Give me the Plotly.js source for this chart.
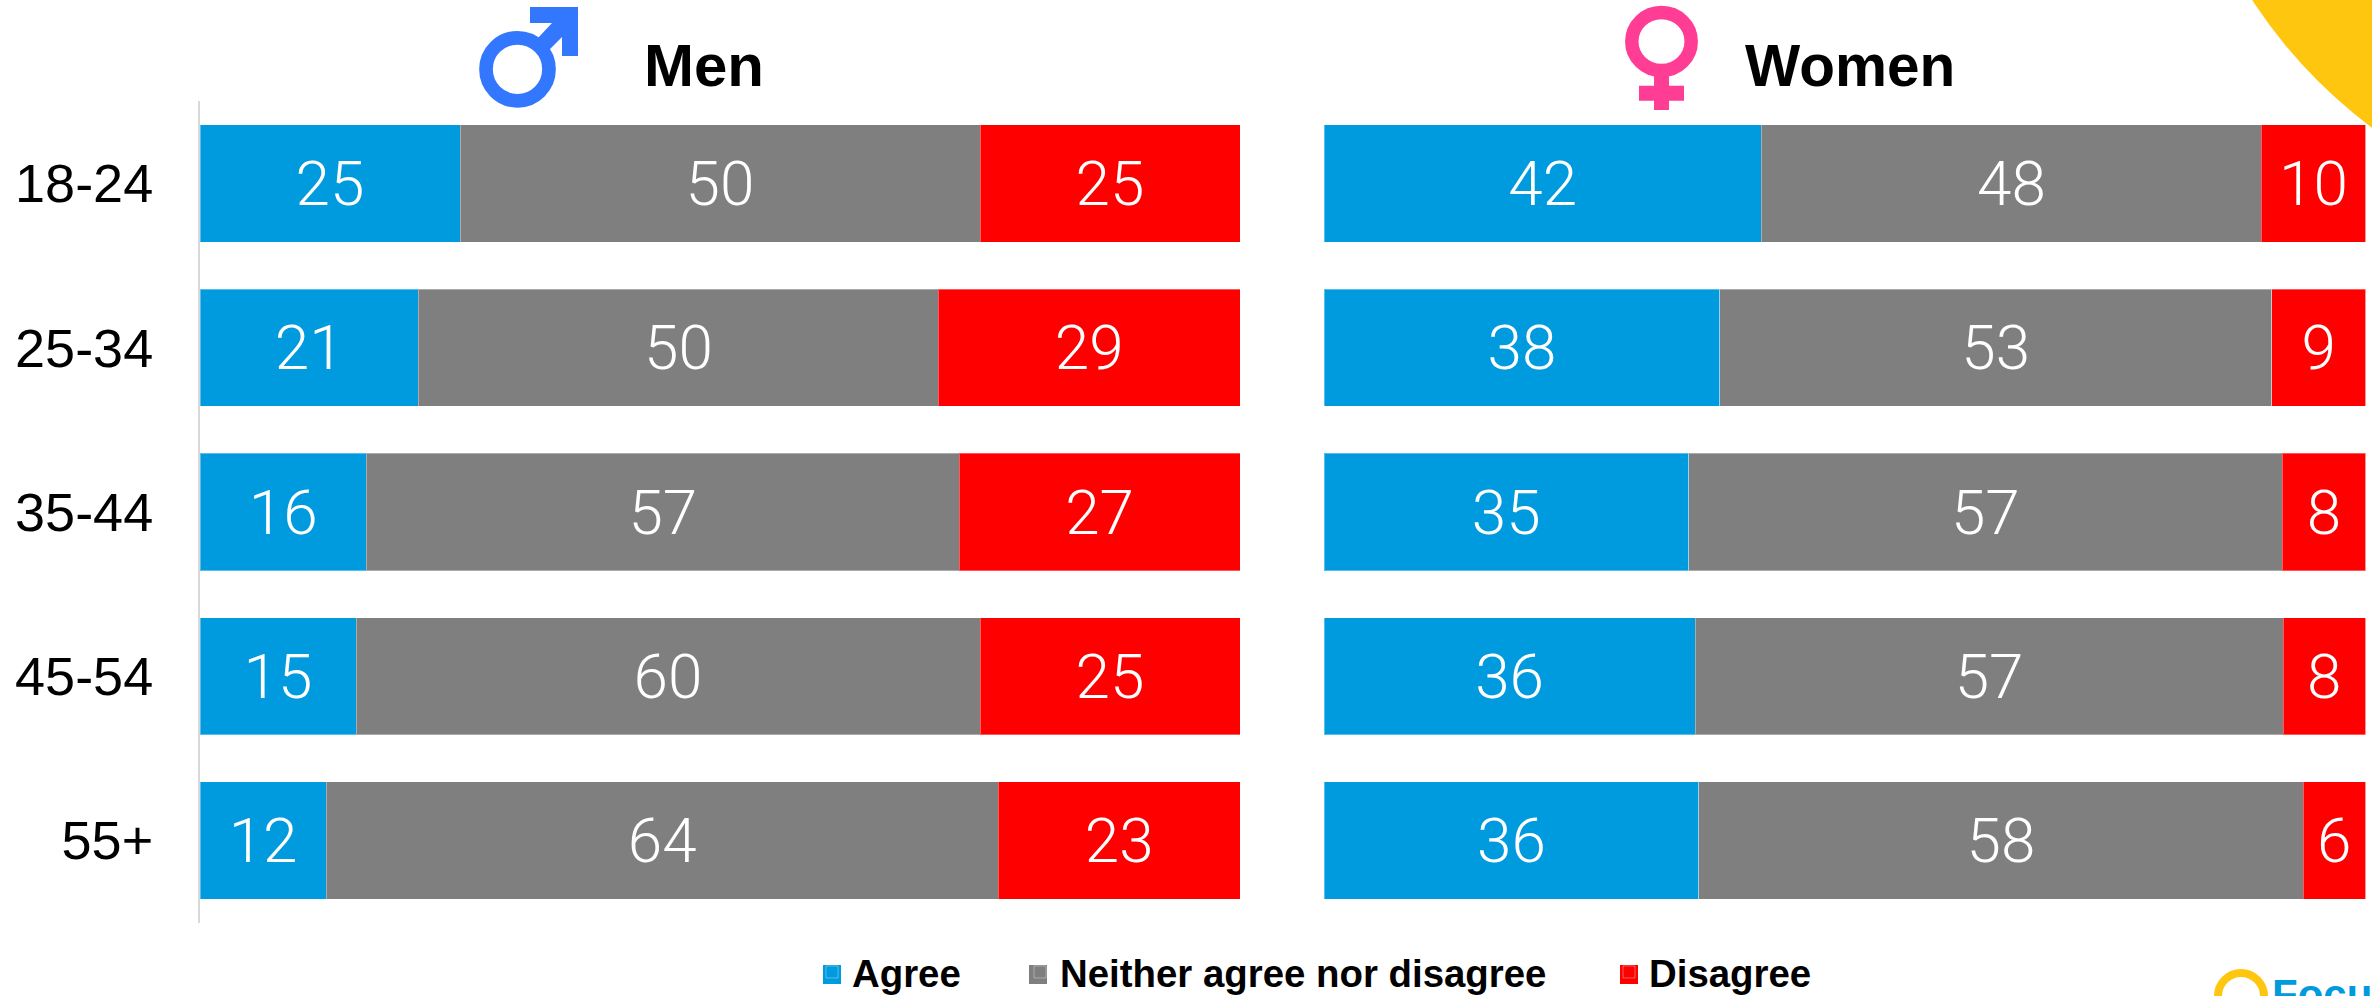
<!DOCTYPE html>
<html>
<head>
<meta charset="utf-8">
<script src="https://cdn.plot.ly/plotly-3.0.1.min.js"></script>
<style>html,body{margin:0;padding:0;background:#fff;overflow:hidden;height:996px}#chart{width:2372px;height:1012px}</style>
</head>
<body>
<div id="chart"></div>
<script>
var ageGroups = ['18-24', '25-34', '35-44', '45-54', '55+'];
var menAgree = [25, 21, 16, 15, 12];
var menNeither = [50, 50, 57, 60, 64];
var menDisagree = [25, 29, 27, 25, 23];
var womenAgree = [42, 38, 35, 36, 36];
var womenNeither = [48, 53, 57, 57, 58];
var womenDisagree = [10, 9, 8, 8, 6];
var seriesNames = ['Agree', 'Neither agree nor disagree', 'Disagree'];
var seriesColors = ['#009ADE', '#7F7F7F', '#FF0000'];

var W = 2372, H = 1012;
function px(x) { return x / W; }
function py(y) { return 1 - y / H; }

function barTrace(values, i, xa, ya, first) {
  return {
    type: 'bar', orientation: 'h', name: seriesNames[i],
    y: ageGroups, x: values, xaxis: xa, yaxis: ya,
    text: values.map(String), textposition: 'inside', insidetextanchor: 'middle',
    textangle: 0, constraintext: 'none',
    textfont: {family: 'Roboto', size: 62, color: '#fff', weight: 300},
    marker: {color: seriesColors[i], line: {width: 1, color: 'rgba(255,255,255,0.35)'}},
    legend: ['legend', 'legend2', 'legend3'][i],
    showlegend: first, hoverinfo: 'name+x+y'
  };
}
var traces = [
  barTrace(menAgree, 0, 'x', 'y', true),
  barTrace(menNeither, 1, 'x', 'y', true),
  barTrace(menDisagree, 2, 'x', 'y', true),
  barTrace(womenAgree, 0, 'x2', 'y2', false),
  barTrace(womenNeither, 1, 'x2', 'y2', false),
  barTrace(womenDisagree, 2, 'x2', 'y2', false)
];

function poly(pts, color) {
  var d = pts.map(function (p, i) { return (i ? 'L' : 'M') + px(p[0]) + ',' + py(p[1]); }).join('') + 'Z';
  return {type: 'path', xref: 'paper', yref: 'paper', path: d, fillcolor: color, line: {width: 0}};
}
function ring(cx, cy, rx, ry, stroke, lineColor, fill) {
  return {type: 'circle', xref: 'paper', yref: 'paper',
    x0: px(cx - rx), x1: px(cx + rx), y0: py(cy + ry), y1: py(cy - ry),
    fillcolor: fill || 'rgba(0,0,0,0)', line: {width: stroke, color: lineColor}};
}
function box(x0, y0, x1, y1, color) {
  return {type: 'rect', xref: 'paper', yref: 'paper', x0: px(x0), x1: px(x1), y0: py(y1), y1: py(y0),
    fillcolor: color, line: {width: 0}};
}
var MALE = '#3377FF', FEMALE = '#FF3D94', SUN = '#FFC60F';
var shapes = [
  ring(2671, -273, 500, 500, 0, SUN, SUN),
  ring(2241, 996, 23, 23, 8, SUN),
  poly([[530, 7], [578, 7], [578, 56], [562, 56], [562, 37], [549, 50], [538, 38], [552, 23], [530, 23]], MALE),
  ring(517.5, 69.3, 31.5, 31.5, 13.7, MALE),
  poly([[1654, 70], [1669, 70], [1669, 85.7], [1684, 85.7], [1684, 100.7], [1669, 100.7], [1669, 110], [1654, 110], [1654, 100.7], [1639, 100.7], [1639, 85.7], [1654, 85.7]], FEMALE),
  ring(1661.5, 41.5, 29.7, 29, 13.5, FEMALE),
  box(823, 965, 841, 984, seriesColors[0]),
  box(1029, 965, 1047, 984, seriesColors[1]),
  box(1620, 965, 1638, 984, seriesColors[2])
];

function txt(s, x, y, size, color, family) {
  return {xref: 'paper', yref: 'paper', x: px(x), y: py(y), text: s, showarrow: false,
    xanchor: 'left', yanchor: 'middle',
    font: {family: family || 'Liberation Sans', size: size, color: color, weight: 700}};
}
var annotations = [
  txt('Men', 642, 66, 60, '#000'),
  txt('Women', 1743, 66, 58.5, '#000'),
  txt('Focus', 2270, 994, 42, '#009ADE')
];

function legendAt(x) {
  return {x: px(x), xref: 'paper', xanchor: 'left', y: py(972), yref: 'paper', yanchor: 'middle',
    orientation: 'h', bgcolor: 'rgba(0,0,0,0)', borderwidth: 0,
    font: {family: 'Liberation Sans', size: 38.4, color: '#000', weight: 700}};
}
var domY = [py(922.6), py(101.4)];
function yAxis(showLabels, anchor, line) {
  return {type: 'category', range: [4.5, -0.5], domain: domY, anchor: anchor,
    showgrid: false, zeroline: false, showline: line, linecolor: '#D9D9D9', linewidth: 2,
    showticklabels: showLabels, ticks: '', ticklabelstandoff: 34,
    tickfont: {family: 'Liberation Sans', size: 54, color: '#000'}};
}
function xAxis(x0, x1, anchor) {
  return {domain: [px(x0), px(x1)], range: [0, 100], anchor: anchor, fixedrange: true,
    showgrid: false, zeroline: false, showline: false, showticklabels: false, ticks: ''};
}
var layout = {
  width: W, height: H, margin: {l: 0, r: 0, t: 0, b: 0, pad: 0},
  paper_bgcolor: '#fff', plot_bgcolor: 'rgba(0,0,0,0)',
  barmode: 'stack', barnorm: 'percent', bargap: 0.2868,
  xaxis: xAxis(200, 1240, 'y'), yaxis: yAxis(true, 'x', true),
  xaxis2: xAxis(1324, 2365.5, 'y2'), yaxis2: yAxis(false, 'x2', false),
  legend: legendAt(812), legend2: legendAt(1020), legend3: legendAt(1609),
  shapes: shapes, annotations: annotations
};
Plotly.newPlot('chart', traces, layout, {displayModeBar: false, responsive: false});
</script>
</body>
</html>
